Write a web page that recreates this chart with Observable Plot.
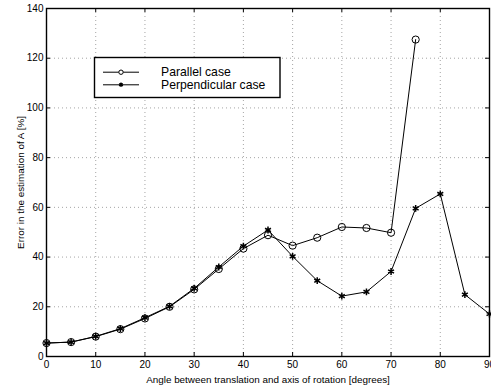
<!DOCTYPE html>
<html><head><meta charset="utf-8">
<script src="https://cdn.jsdelivr.net/npm/d3@7"></script>
<script src="https://cdn.jsdelivr.net/npm/@observablehq/plot@0.6"></script>
<style>
body{margin:0;background:#fff;}
svg{font-family:"Liberation Sans",Arial,Helvetica,sans-serif;}
</style></head>
<body><div id="chart"></div>
<script>
const angles = [0,5,10,15,20,25,30,35,40,45,50,55,60,65,70,75,80,85,90];
const parallel = [5.4,5.8,8.0,11.0,15.3,20.0,27.0,35.2,43.4,48.8,44.6,47.8,52.1,51.7,49.8,127.5];
const perpendicular = [5.4,5.8,8.1,11.2,15.6,20.2,27.4,36.0,44.4,50.9,40.3,30.5,24.3,26.0,34.2,59.6,65.4,24.9,17.1];
const xTicks = [0,10,20,30,40,50,60,70,80,90];
const yTicks = [0,20,40,60,80,100,120,140];
const seriesNames = ["Parallel case","Perpendicular case"];

const par = parallel.map((v,i)=>({x:angles[i], y:v}));
const perp = perpendicular.map((v,i)=>({x:angles[i], y:v}));

const W = 491, H = 387, mL = 46, mR = 2, mT = 8, mB = 31;
const pw = W - mL - mR, ph = H - mT - mB, tk = 4;
const grid = {stroke:"#000", strokeOpacity:0.6, strokeWidth:0.6, strokeDasharray:"1,3"};
const tick = {stroke:"#000", strokeWidth:1};

const plot = Plot.plot({
  width: W, height: H,
  marginLeft: mL, marginRight: mR, marginTop: mT, marginBottom: mB,
  style: {fontFamily: '"Liberation Sans",Arial,Helvetica,sans-serif', background: "#fff", overflow: "visible"},
  x: {domain:[0,90]},
  y: {domain:[0,140]},
  marks: [
    Plot.ruleX(xTicks.slice(1,-1), grid),
    Plot.ruleY(yTicks.slice(1,-1), grid),
    Plot.ruleX(xTicks, {...tick, insetTop: ph - tk}),
    Plot.ruleX(xTicks, {...tick, insetBottom: ph - tk}),
    Plot.ruleY(yTicks, {...tick, insetRight: pw - tk}),
    Plot.ruleY(yTicks, {...tick, insetLeft: pw - tk}),
    Plot.axisX({ticks:xTicks, tickSize:0, tickPadding:4, fontSize:10, label:"Angle between translation and axis of rotation [degrees]", labelAnchor:"center", labelArrow:"none", labelOffset:26}),
    Plot.axisY({ticks:yTicks, tickSize:0, tickPadding:3, fontSize:10, label:"Error in the estimation of A [%]", labelAnchor:"center", labelArrow:"none", labelOffset:30}),
    Plot.frame({stroke:"#000", strokeWidth:1.4}),
    Plot.line(par, {x:"x", y:"y", stroke:"#000", strokeWidth:1}),
    Plot.line(perp, {x:"x", y:"y", stroke:"#000", strokeWidth:1}),
    Plot.dot(par, {x:"x", y:"y", r:3.6, stroke:"#000", fill:"none", strokeWidth:1}),
    Plot.dot(perp, {x:"x", y:"y", r:3.2, symbol:"asterisk", stroke:"#000", strokeWidth:1.5})
  ]
});
document.getElementById("chart").appendChild(plot);

d3.select(plot).selectAll("[aria-label='x-axis label'] text, [aria-label='y-axis label'] text").attr("font-size", 9.9);

// legend
const svg = d3.select(plot);
const lg = svg.append("g").attr("font-family",'"Liberation Sans",Arial,Helvetica,sans-serif').attr("text-anchor","start");
lg.append("rect").attr("x",94.5).attr("y",57.5).attr("width",185.5).attr("height",40)
  .attr("fill","#fff").attr("stroke","#000").attr("stroke-width",1.4);
const rows = [72.2, 84.8];
seriesNames.forEach((name,i)=>{
  const y = rows[i];
  lg.append("line").attr("x1",103).attr("x2",139).attr("y1",y).attr("y2",y).attr("stroke","#000");
  if (i===0) lg.append("circle").attr("cx",121).attr("cy",y).attr("r",2.2).attr("fill","#fff").attr("stroke","#000");
  else lg.append("path").attr("d",d3.symbol(d3.symbolAsterisk,14)()).attr("transform",`translate(121,${y})`).attr("stroke","#000").attr("stroke-width",1.3);
  lg.append("text").attr("x",161).attr("y",y+4.2).attr("font-size",12.2).attr("fill","#000").attr("text-anchor","start").text(name);
});
</script></body></html>
